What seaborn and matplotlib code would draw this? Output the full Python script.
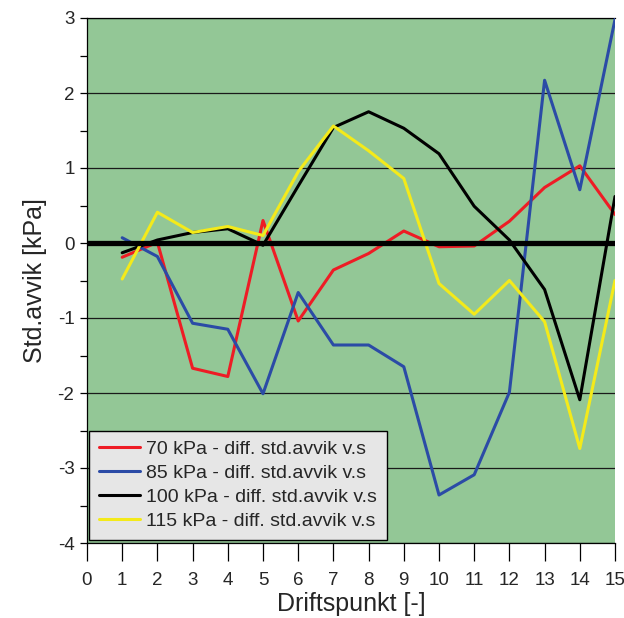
import matplotlib
matplotlib.use("Agg")
import matplotlib.pyplot as plt
import seaborn as sns
import numpy as np
import pandas as pd

# Driftspunkt (operating points) and the difference in standard deviation per pressure level
driftspunkt = [1, 2, 3, 4, 5, 6, 7, 8, 9, 10, 11, 12, 13, 14, 15]
kpa_70 = [-0.19, 0.01, -1.67, -1.78, 0.30, -1.04, -0.36, -0.14, 0.16, -0.05, -0.04, 0.29, 0.74, 1.03, 0.38]
kpa_85 = [0.07, -0.18, -1.07, -1.15, -2.01, -0.66, -1.36, -1.36, -1.65, -3.36, -3.09, -1.99, 2.17, 0.71, 2.98]
kpa_100 = [-0.13, 0.04, 0.14, 0.19, -0.03, 0.76, 1.54, 1.75, 1.53, 1.19, 0.49, 0.04, -0.62, -2.09, 0.62]
kpa_115 = [-0.48, 0.41, 0.14, 0.22, 0.10, 0.95, 1.56, 1.23, 0.86, -0.54, -0.95, -0.50, -1.05, -2.74, -0.50]

series_labels = [
    "70 kPa - diff. std.avvik v.s",
    "85 kPa - diff. std.avvik v.s",
    "100 kPa - diff. std.avvik v.s",
    "115 kPa - diff. std.avvik v.s",
]
series_values = [kpa_70, kpa_85, kpa_100, kpa_115]
series_colors = ["#EE1C25", "#2B4BA6", "#000000", "#F4EA1A"]

x_ticks = list(range(0, 16))
y_ticks = list(range(-4, 4))

sns.set_theme(style="white")
plt.rcParams["font.family"] = ["Liberation Sans", "DejaVu Sans"]
plt.rcParams["axes.unicode_minus"] = False

fig = plt.figure(figsize=(6.24, 6.18), dpi=100)
ax = fig.add_axes([87 / 624, 75 / 618, 528 / 624, 525 / 618])
ax.set_facecolor("#93C796")

for label, vals, color in zip(series_labels, series_values, series_colors):
    df = pd.DataFrame({"Driftspunkt": driftspunkt, "diff": vals})
    sns.lineplot(data=df, x="Driftspunkt", y="diff", color=color, lw=2.2,
                 label=label, ax=ax, zorder=3)

# horizontal grid at each whole kPa and a heavy zero reference
for yv in y_ticks:
    ax.axhline(yv, color="#1a1a1a", lw=0.9, zorder=1)
ax.axhline(0, color="black", lw=3.8, zorder=4, solid_capstyle="butt")

ax.set_xlim(0, 15)
ax.set_ylim(-4, 3)
ax.set_xticks(x_ticks)
ax.set_yticks(y_ticks)
ax.set_yticks(np.arange(-4, 3.01, 0.5), minor=True)
ax.tick_params(axis="x", which="major", direction="out", length=13, width=0.9,
               color="black", labelsize=13.5, pad=8, bottom=True)
ax.tick_params(axis="y", which="both", direction="out", length=5, width=0.9,
               color="black", labelsize=13.5, pad=4, left=True)

for side in ["left", "bottom", "top"]:
    ax.spines[side].set_color("black")
    ax.spines[side].set_linewidth(0.9)
ax.spines["right"].set_visible(False)

ax.set_xlabel("Driftspunkt [-]", fontsize=18, labelpad=2)
ax.set_ylabel("Std.avvik [kPa]", fontsize=18, labelpad=8)

leg = ax.legend(loc="lower left", bbox_to_anchor=(0.004, 0.006), borderaxespad=0,
                fontsize=14, frameon=True, fancybox=False, framealpha=1,
                facecolor="#E6E6E6", edgecolor="black", handlelength=2.1,
                labelspacing=0.33, borderpad=0.5, handletextpad=0.35)
leg.get_frame().set_linewidth(1.0)
leg.set_zorder(6)

fig.savefig("out.png", dpi=100)
